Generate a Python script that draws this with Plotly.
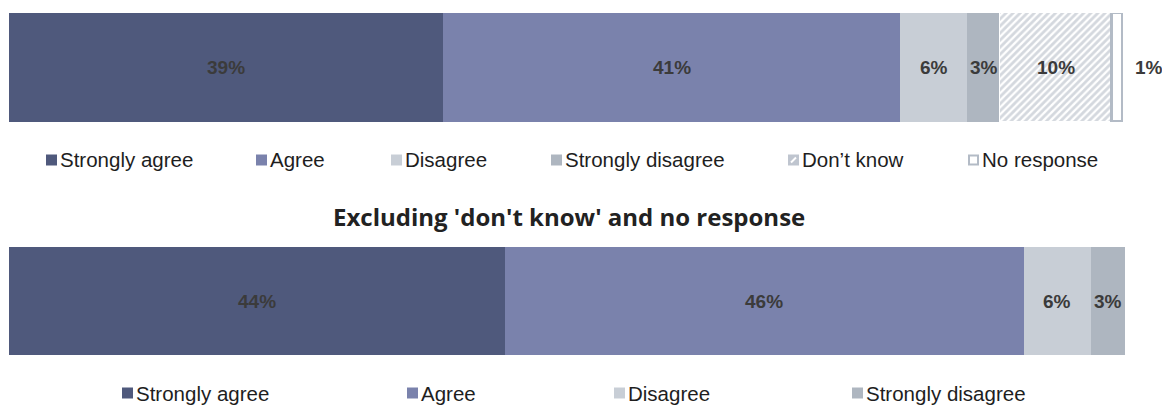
import plotly.graph_objects as go

# Survey response shares (percent)
categories = ["Strongly agree", "Agree", "Disagree", "Strongly disagree",
              "Don\u2019t know", "No response"]
all_values = [39, 41, 6, 3, 10, 1]

excl_categories = ["Strongly agree", "Agree", "Disagree", "Strongly disagree"]
excl_values = [44, 46, 6, 3]

excl_title = "Excluding 'don't know' and no response"

W, H = 1162, 406

fill = {
    "Strongly agree": "#4f597c",
    "Agree": "#7a82ac",
    "Disagree": "#c8ced6",
    "Strongly disagree": "#aeb6c0",
    "Don\u2019t know": "#ffffff",
    "No response": "#ffffff",
}
GRID_GRAY = "#b3bbc6"
HATCH_GRAY = "#a9b2be"
LABEL_COLOR = "#3b3b3b"
TEXT_COLOR = "#1e1e1e"


def px_x(p):
    return p / W


def px_y(p):
    return 1 - p / H


fig = go.Figure()


def add_stack(cats, vals, xa, ya):
    for cat, v in zip(cats, vals):
        marker = dict(color=fill[cat], line=dict(width=0))
        if cat == "Don\u2019t know":
            marker = dict(
                color="#ffffff",
                pattern=dict(shape="/", fgcolor=HATCH_GRAY, bgcolor="#ffffff",
                             size=5, solidity=0.55),
                line=dict(color="#ffffff", width=1.5),
            )
        elif cat == "No response":
            marker = dict(color="#ffffff", line=dict(color=GRID_GRAY, width=3))
        fig.add_trace(go.Bar(
            x=[v], y=[0], orientation="h", width=1,
            xaxis=xa, yaxis=ya, marker=marker,
            name=cat, showlegend=False, hoverinfo="skip",
        ))


add_stack(categories, all_values, "x", "y")
add_stack(excl_categories, excl_values, "x2", "y2")

annotations = []


def add_value_labels(vals, xref, yref):
    start = 0
    for v in vals:
        if v < 2:
            annotations.append(dict(
                x=start + v, y=0, xref=xref, yref=yref, text=f"{v}%",
                showarrow=False, xanchor="left", xshift=10,
                font=dict(family="Liberation Sans, Arial", size=19,
                          color=LABEL_COLOR, weight="bold"),
            ))
        else:
            annotations.append(dict(
                x=start + v / 2, y=0, xref=xref, yref=yref, text=f"{v}%",
                showarrow=False, xanchor="center",
                font=dict(family="Liberation Sans, Arial", size=19,
                          color=LABEL_COLOR, weight="bold"),
            ))
        start += v


add_value_labels(all_values, "x", "y")
add_value_labels(excl_values, "x2", "y2")

# Section heading for the second bar
annotations.append(dict(
    x=px_x(569), y=px_y(216), xref="paper", yref="paper",
    text=excl_title, showarrow=False, xanchor="center", yanchor="middle",
    font=dict(family="Open Sans", size=24, color="#222222", weight="bold"),
))

shapes = []

# Hand-placed legends (swatch left edge)
legend_top = [46, 256, 391, 551, 788, 968]
legend_bottom = [122, 407, 614, 852]


def add_legend(cats, lefts, cy):
    for cat, x0 in zip(cats, lefts):
        s = 11
        y0, y1 = cy - s / 2, cy + s / 2
        if cat == "Don\u2019t know":
            shapes.append(dict(type="rect", xref="paper", yref="paper",
                               x0=px_x(x0), x1=px_x(x0 + s),
                               y0=px_y(y1), y1=px_y(y0),
                               fillcolor="#bfc5cf", line=dict(width=0)))
            shapes.append(dict(type="line", xref="paper", yref="paper",
                               x0=px_x(x0 + 3), x1=px_x(x0 + s - 3),
                               y0=px_y(y1 - 3), y1=px_y(y0 + 3),
                               line=dict(color="#ffffff", width=2)))
        elif cat == "No response":
            shapes.append(dict(type="rect", xref="paper", yref="paper",
                               x0=px_x(x0 + 1), x1=px_x(x0 + s - 1),
                               y0=px_y(y1 - 1), y1=px_y(y0 + 1),
                               fillcolor="#ffffff",
                               line=dict(color=GRID_GRAY, width=2)))
        else:
            shapes.append(dict(type="rect", xref="paper", yref="paper",
                               x0=px_x(x0), x1=px_x(x0 + s),
                               y0=px_y(y1), y1=px_y(y0),
                               fillcolor=fill[cat], line=dict(width=0)))
        annotations.append(dict(
            x=px_x(x0 + s + 2), y=px_y(cy), xref="paper", yref="paper",
            text=cat, showarrow=False, xanchor="left", yanchor="middle",
            borderpad=0,
            font=dict(family="Liberation Sans, Arial", size=20.5, color=TEXT_COLOR),
        ))


add_legend(categories, legend_top, 160)
add_legend(excl_categories, legend_bottom, 393)

hidden = dict(visible=False, fixedrange=True, showgrid=False, zeroline=False)

fig.update_layout(
    width=W, height=H,
    margin=dict(l=0, r=0, t=0, b=0),
    paper_bgcolor="#ffffff", plot_bgcolor="#ffffff",
    barmode="stack", bargap=0,
    showlegend=False,
    xaxis=dict(hidden, domain=[px_x(9), px_x(1123)], range=[0, sum(all_values)]),
    yaxis=dict(hidden, domain=[px_y(122), px_y(13)], range=[-0.5, 0.5]),
    xaxis2=dict(hidden, domain=[px_x(9), px_x(1125)], range=[0, sum(excl_values)],
                anchor="y2"),
    yaxis2=dict(hidden, domain=[px_y(355), px_y(247)], range=[-0.5, 0.5],
                anchor="x2"),
    annotations=annotations,
    shapes=shapes,
)

fig.write_html("out.html")
